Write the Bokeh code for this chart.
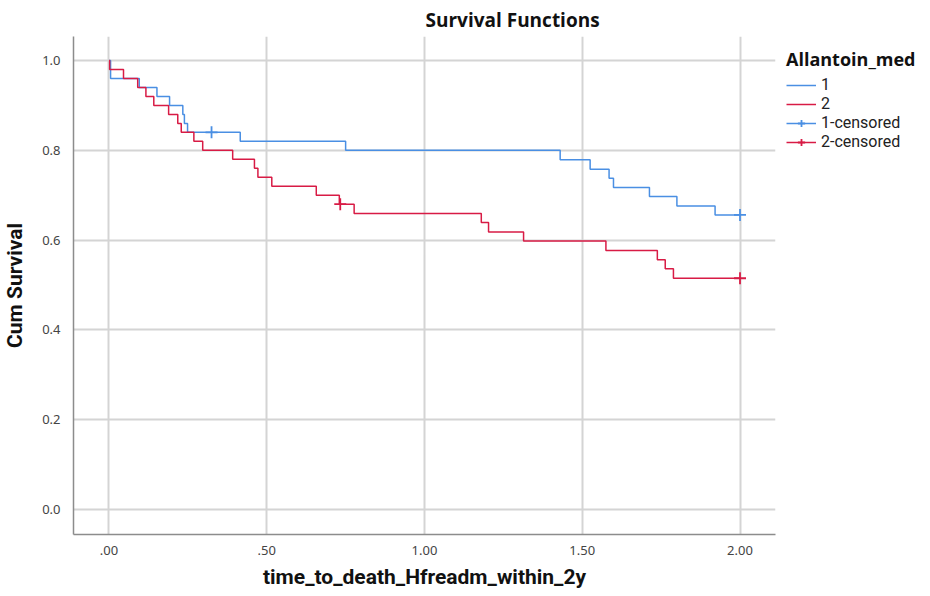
from bokeh.plotting import figure
from bokeh.models import Range1d, FixedTicker, Legend, LegendItem
from bokeh.embed import file_html
from bokeh.resources import INLINE

# ---- data ----
t_group1 = [0.0, 0.005, 0.096, 0.152, 0.192, 0.234, 0.239, 0.249, 0.416, 0.750,
            1.430, 1.525, 1.585, 1.599, 1.713, 1.800, 1.921, 2.0]
s_group1 = [1.0, 0.96, 0.94, 0.92, 0.90, 0.88, 0.86, 0.84, 0.82, 0.80,
            0.779, 0.758, 0.738, 0.717, 0.697, 0.676, 0.656, 0.656]

t_group2 = [0.0, 0.002, 0.046, 0.091, 0.117, 0.142, 0.189, 0.218, 0.229, 0.269,
            0.297, 0.392, 0.461, 0.472, 0.516, 0.657, 0.730, 0.777, 1.180, 1.203,
            1.314, 1.575, 1.738, 1.763, 1.789, 2.0]
s_group2 = [1.0, 0.98, 0.96, 0.94, 0.92, 0.90, 0.88, 0.86, 0.84, 0.82,
            0.80, 0.78, 0.76, 0.74, 0.72, 0.70, 0.68, 0.659, 0.639, 0.618,
            0.598, 0.577, 0.556, 0.536, 0.515, 0.515]

cens_t_group1 = [0.325, 2.0]
cens_s_group1 = [0.84, 0.656]
cens_t_group2 = [0.733, 2.0]
cens_s_group2 = [0.68, 0.515]

x_tick_vals = [0.0, 0.5, 1.0, 1.5, 2.0]
x_tick_labels = [".00", ".50", "1.00", "1.50", "2.00"]
y_tick_vals = [0.0, 0.2, 0.4, 0.6, 0.8, 1.0]
y_tick_labels = ["0.0", "0.2", "0.4", "0.6", "0.8", "1.0"]

legend_labels = ["1", "2", "1-censored", "2-censored"]

BLUE = "#4a8fe3"
RED = "#d81b45"
AX_FONT = "Roboto"
NAN = float("nan")

p = figure(frame_width=702, frame_height=498, output_backend="svg",
           toolbar_location=None,
           x_range=Range1d(-0.1125, 2.1125), y_range=Range1d(-0.0557, 1.0535),
           min_border_left=67, min_border_right=145, min_border_top=29,
           min_border_bottom=50)
p.outline_line_color = None
p.background_fill_color = "white"

p.title.text = "Survival Functions"
p.title.align = "left"
p.title.offset = 352
p.title.text_font = "Open Sans"
p.title.text_font_size = "19px"
p.title.text_font_style = "bold"
p.title.text_color = "#111111"
p.title.standoff = 8

for ax in (p.xaxis[0], p.yaxis[0]):
    ax.axis_line_color = "#8c8c8c"
    ax.axis_line_width = 1.5
    ax.major_tick_line_color = None
    ax.minor_tick_line_color = None
    ax.major_label_text_color = "#444444"
    ax.major_label_text_font = "Noto Sans"
    ax.major_label_text_font_size = "13px"
    ax.axis_label_text_font = AX_FONT
    ax.axis_label_text_font_style = "bold"
    ax.axis_label_text_font_size = "21px"
    ax.axis_label_text_color = "#111111"

p.xaxis.ticker = FixedTicker(ticks=x_tick_vals)
p.xaxis.major_label_overrides = dict(zip(x_tick_vals, x_tick_labels))
p.xaxis.major_label_standoff = 5
p.xaxis.axis_label = "time_to_death_Hfreadm_within_2y"
p.xaxis.axis_label_standoff = 7

p.yaxis.ticker = FixedTicker(ticks=y_tick_vals)
p.yaxis.major_label_overrides = dict(zip(y_tick_vals, y_tick_labels))
p.yaxis.major_label_standoff = 7
p.yaxis.axis_label = "Cum Survival"
p.yaxis.axis_label_standoff = 12

p.xgrid.ticker = FixedTicker(ticks=x_tick_vals)
p.ygrid.ticker = FixedTicker(ticks=y_tick_vals)
for g in (p.xgrid[0], p.ygrid[0]):
    g.grid_line_color = "#d4d4d4"
    g.grid_line_width = 2

r1 = p.step(t_group1, s_group1, mode="after", line_color=BLUE, line_width=1.5)
r2 = p.step(t_group2, s_group2, mode="after", line_color=RED, line_width=1.5)
c1 = p.scatter(cens_t_group1, cens_s_group1, marker="cross", size=12,
               line_color=BLUE, line_width=1.8)
c2 = p.scatter(cens_t_group2, cens_s_group2, marker="cross", size=12,
               line_color=RED, line_width=1.8)
# legend-only horizontal strokes for the censored entries (NaN: nothing drawn)
k1 = p.line([NAN, NAN], [NAN, NAN], line_color=BLUE, line_width=1.5)
k2 = p.line([NAN, NAN], [NAN, NAN], line_color=RED, line_width=1.5)

legend = Legend(items=[LegendItem(label=legend_labels[0], renderers=[r1]),
                       LegendItem(label=legend_labels[1], renderers=[r2]),
                       LegendItem(label=legend_labels[2], renderers=[k1, c1]),
                       LegendItem(label=legend_labels[3], renderers=[k2, c2])],
                location="top_left")
legend.title = "Allantoin_med"
legend.title_text_font = "Open Sans"
legend.title_text_font_style = "bold"
legend.title_text_font_size = "18px"
legend.title_text_color = "#111111"
legend.title_standoff = 4
legend.label_text_font = "Roboto"
legend.label_text_font_size = "16px"
legend.label_text_color = "#222222"
legend.label_height = 18
legend.glyph_height = 18
legend.glyph_width = 30
legend.label_standoff = 5
legend.spacing = 0
legend.padding = 2
legend.margin = 11
legend.border_line_color = None
legend.background_fill_alpha = 0
p.add_layout(legend, "right")

open("out.html", "w").write(file_html(p, INLINE))
